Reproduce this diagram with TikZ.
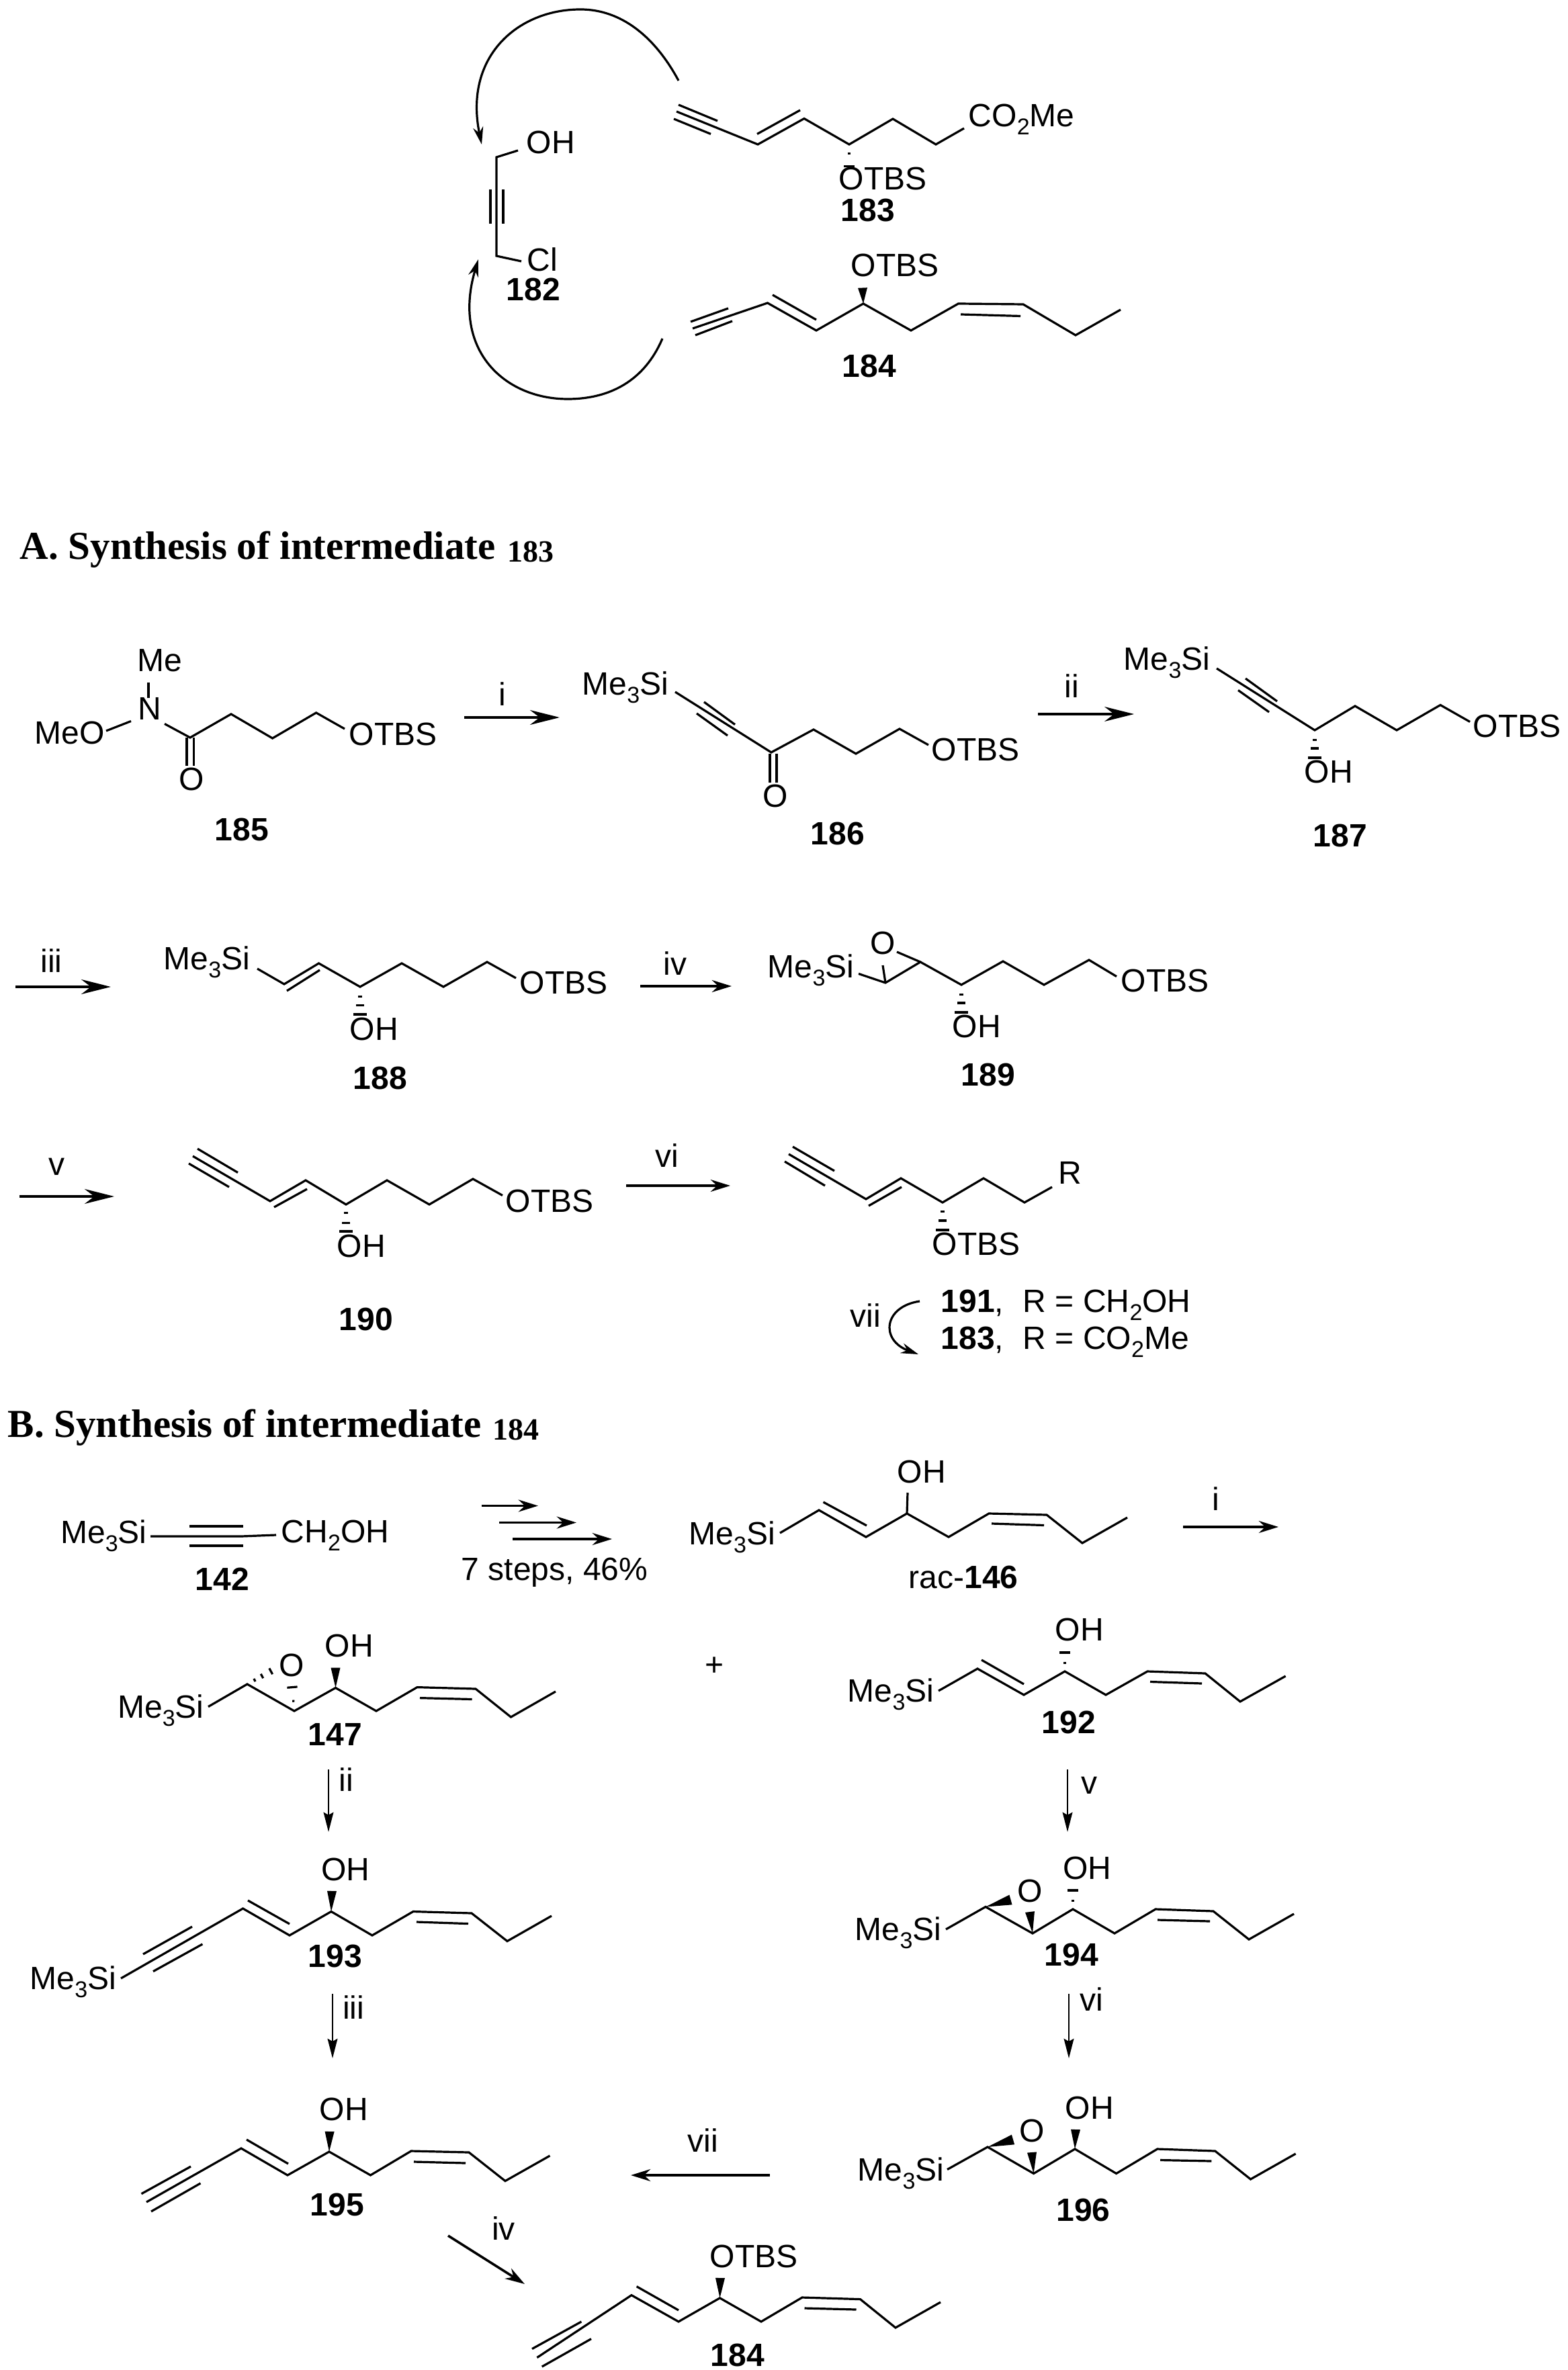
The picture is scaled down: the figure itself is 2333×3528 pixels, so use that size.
\documentclass[tikz,border=0pt]{standalone}
\usepackage{fontspec}
\setmainfont{Liberation Sans}
\newfontfamily\titlefont{Liberation Serif}
\usetikzlibrary{arrows.meta, calc}
\newcommand{\sbs}[1]{\raisebox{-3pt}{\fontsize{8.5}{9}\selectfont #1}}
% solid wedge: tip, middle of the broad end, half width
\newcommand{\wedgeb}[3]{\fill ($(#2)!#3!90:(#1)$) -- (#1) -- ($(#2)!#3!-90:(#1)$) -- cycle;}
% hashed wedge: tip, far end, list of fraction/half width
\newcommand{\hashb}[3]{\foreach \p/\w in {#3} \draw[bond] ($(#1)!\p!(#2)!\w!90:(#1)$) -- ($(#1)!\p!(#2)!\w!-90:(#1)$);}
\tikzset{
    bond/.style={line width=0.8pt},
    atom/.style={inner sep=0pt, anchor=base west},
    cmpd/.style={inner sep=0pt, anchor=base, font=\fontsize{12}{14}\selectfont\bfseries},
    rgt/.style={inner sep=0pt, anchor=base},
    head/.style={inner sep=0pt, anchor=base west, font=\titlefont\fontsize{14.75}{16}\selectfont\bfseries},
    headnum/.style={inner sep=0pt, anchor=base west, font=\titlefont\fontsize{11.5}{13}\selectfont\bfseries},
    rxnbig/.style={line width=0.9pt, -{Stealth[length=11pt, width=5.5pt]}},
    rxn/.style={line width=0.9pt, -{Stealth[length=7.3pt, width=4.5pt]}},
    rxnthin/.style={line width=0.6pt, -{Stealth[length=7.3pt, width=3.7pt, inset=1pt]}},
    curly/.style={line width=0.8pt, -{Stealth[length=6.5pt, width=3.8pt]}}
}

\begin{document}
\begin{tikzpicture}[x=0.25pt, y=-0.25pt, font=\fontsize{12}{14}\selectfont]
    \useasboundingbox (0,0) rectangle (2333,3528);

    % retrosynthesis at the top
    \node[atom] (oh182) at (783,228.5) {OH};
    \node[atom] (cl182) at (784,404) {Cl};
    \node[cmpd] (n182) at (794,448) {182};
    \draw[bond] (771,224) -- (739,234) -- (739,381) -- (776,389);
    \draw[bond] (730,282) -- (730,333);
    \draw[bond] (749,282) -- (749,333);
    \coordinate (arcAs) at (1010,120);
    \coordinate (arcAe) at (717,215);
    \coordinate (arcBs) at (986,504);
    \coordinate (arcBe) at (712,386);
    \draw[curly] (arcAs) .. controls (975,55) and (925,14) .. (864,14) .. controls (770,14) and (690,85) .. (arcAe);
    \draw[curly] (arcBs) .. controls (960,565) and (910,594) .. (845,594) .. controls (750,594) and (672,520) .. (arcBe);

    \node[atom] (otbs183) at (1248,283) {OTBS};
    \node[cmpd] (n183) at (1292,330) {183};
    \node[atom] (est183) at (1441,189) {CO\sbs{2}Me};
    \draw[bond] (1007,166) -- (1128,215) -- (1197,176.5) -- (1264,215) -- (1329,177) -- (1393,215) -- (1435,191);
    \draw[bond] (1010,156) -- (1068,180);
    \draw[bond] (1003,177) -- (1058,199.5);
    \draw[bond] (1127,199.5) -- (1191,164);
    \hashb{1264,215}{1264,250}{0.38/0.6pt, 0.92/2pt}

    \node[atom] (otbs184) at (1266,412) {OTBS};
    \node[cmpd] (n184) at (1294,562) {184};
    \draw[bond] (1031,489) -- (1142.5,451) -- (1215,492) -- (1285,452) -- (1356,492) -- (1426.5,452) -- (1523,453) -- (1601,499) -- (1668,461);
    \draw[bond] (1028,479) -- (1084,459);
    \draw[bond] (1035,499) -- (1090,478);
    \draw[bond] (1150,439) -- (1215,476);
    \draw[bond] (1430,468) -- (1519,470.5);
    \wedgeb{1285,452}{1284,428.5}{1.75pt}

    % part A
    \node[head] (titleA) at (29,833) {A. Synthesis of intermediate};
    \node[headnum] (numA) at (755,837) {183};

    \node[atom] (me185) at (203.6,999.5) {Me};
    \node[atom] (n185) at (205,1072) {N};
    \node[atom] (meo185) at (51,1107) {MeO};
    \node[atom] (otbs185) at (519,1109) {OTBS};
    \node[atom] (o185) at (266,1177) {O};
    \node[cmpd] (l185) at (360,1251) {185};
    \draw[bond] (221,1016) -- (221,1039);
    \draw[bond] (158,1088) -- (195,1073.5);
    \draw[bond] (245,1077.5) -- (283,1098) -- (344,1063) -- (405.6,1099) -- (470.6,1061) -- (513,1085);
    \draw[bond] (278,1098) -- (278,1140);
    \draw[bond] (288.5,1098) -- (288.5,1140);

    \coordinate (i1s) at (691,1068);
    \coordinate (i1e) at (833,1068);
    \draw[rxnbig] (i1s) -- (i1e);
    \node[rgt] (i1) at (748,1050.5) {i};

    \node[atom] (si186) at (866,1034) {Me\sbs{3}Si};
    \node[atom] (o186) at (1135,1201) {O};
    \node[atom] (otbs186) at (1386,1133) {OTBS};
    \node[cmpd] (l186) at (1247,1257) {186};
    \draw[bond] (1005,1030) -- (1148,1120) -- (1211,1086) -- (1274,1122) -- (1339,1085) -- (1382,1109);
    \draw[bond] (1048,1045) -- (1094,1078.6);
    \draw[bond] (1037,1062) -- (1083,1095);
    \draw[bond] (1146,1122) -- (1146,1165);
    \draw[bond] (1156,1122) -- (1156,1165);

    \coordinate (ii1s) at (1545,1063);
    \coordinate (ii1e) at (1688,1063);
    \draw[rxnbig] (ii1s) -- (ii1e);
    \node[rgt] (ii1) at (1595,1039) {ii};

    \node[atom] (si187) at (1672,998) {Me\sbs{3}Si};
    \node[atom] (otbs187) at (2192,1097) {OTBS};
    \node[atom] (oh187) at (1941,1165) {OH};
    \node[cmpd] (l187) at (1995,1260) {187};
    \draw[bond] (1811,995) -- (1957,1087) -- (2017,1051) -- (2079,1087) -- (2144,1049.5) -- (2188,1074.5);
    \draw[bond] (1854,1010) -- (1901,1044);
    \draw[bond] (1843,1027.5) -- (1889,1060);
    \hashb{1957,1087}{1957,1128}{0.35/0.8pt, 0.66/1.4pt, 1/2.4pt}

    \coordinate (iii1s) at (23,1469);
    \coordinate (iii1e) at (165,1469);
    \draw[rxnbig] (iii1s) -- (iii1e);
    \node[rgt] (iii1) at (76.5,1447) {iii};

    \node[atom] (si188) at (243,1443) {Me\sbs{3}Si};
    \node[atom] (otbs188) at (773,1479) {OTBS};
    \node[atom] (oh188) at (520,1548) {OH};
    \node[cmpd] (l188) at (566,1621) {188};
    \draw[bond] (383,1442) -- (423,1465) -- (474.5,1434) -- (536,1469) -- (598,1434) -- (660,1469) -- (725,1432) -- (768,1456);
    \draw[bond] (427,1475) -- (476,1444);
    \hashb{536,1469}{536,1510}{0.35/0.8pt, 0.68/1.4pt, 1/2.4pt}

    \coordinate (iv1s) at (953,1468);
    \coordinate (iv1e) at (1089,1468);
    \draw[rxn] (iv1s) -- (iv1e);
    \node[rgt] (iv1) at (1005,1451) {iv};

    \node[atom] (si189) at (1142,1455) {Me\sbs{3}Si};
    \node[atom] (o189) at (1295,1420) {O};
    \node[atom] (otbs189) at (1668,1476.5) {OTBS};
    \node[atom] (oh189) at (1417,1544) {OH};
    \node[cmpd] (l189) at (1471,1616) {189};
    \draw[bond] (1278,1449.5) -- (1318,1463) -- (1370,1432) -- (1431,1466) -- (1493,1431) -- (1554,1466) -- (1621,1429) -- (1662,1453.6);
    \draw[bond] (1370,1432) -- (1335,1417);
    \draw[bond] (1318,1463) -- (1314,1437);
    \hashb{1431,1466}{1431,1507}{0.35/0.8pt, 0.66/1.4pt, 1/2.4pt}

    \coordinate (v1s) at (29,1781);
    \coordinate (v1e) at (170,1781);
    \draw[rxnbig] (v1s) -- (v1e);
    \node[rgt] (v1) at (84,1749) {v};

    \node[atom] (otbs190) at (752,1804) {OTBS};
    \node[atom] (oh190) at (501,1871) {OH};
    \node[cmpd] (l190) at (545,1980) {190};
    \draw[bond] (287,1721) -- (402,1788) -- (455,1757) -- (515,1793) -- (576,1757) -- (639,1793) -- (704,1755) -- (748,1779.5);
    \draw[bond] (294,1710) -- (354,1745.5);
    \draw[bond] (281,1732) -- (341,1767);
    \draw[bond] (408,1797) -- (457,1770);
    \hashb{515,1793}{515,1833}{0.32/0.8pt, 0.68/1.4pt, 1/2.4pt}

    \coordinate (vi1s) at (932,1765);
    \coordinate (vi1e) at (1087,1765);
    \draw[rxn] (vi1s) -- (vi1e);
    \node[rgt] (vi1) at (993,1737) {vi};

    \node[atom] (r191) at (1575,1762.5) {R};
    \node[atom] (otbs191) at (1387,1868) {OTBS};
    \node[atom] (l191) at (1400,1953) {\textbf{191}, };
    \node[atom] (r1) at (1522,1953) {R = CH\sbs{2}OH};
    \node[atom] (l183) at (1400,2008.5) {\textbf{183}, };
    \node[atom] (r2) at (1522,2008.5) {R = CO\sbs{2}Me};
    \draw[bond] (1174,1718) -- (1289,1785) -- (1341,1754) -- (1403,1790) -- (1464,1754) -- (1525,1790) -- (1566,1767);
    \draw[bond] (1180,1707) -- (1242,1743);
    \draw[bond] (1168,1729) -- (1228,1765);
    \draw[bond] (1293,1795) -- (1342,1767);
    \hashb{1403,1790}{1403,1831}{0.32/0.8pt, 0.66/1.4pt, 1/2.4pt}
    \node[atom] (vii1) at (1265,1975) {vii};
    \coordinate (viiAs) at (1369,1937);
    \coordinate (viiAe) at (1367,2016);
    \draw[curly] (viiAs) .. controls (1315,1945) and (1310,1995) .. (viiAe);

    % part B
    \node[head] (titleB) at (11,2139) {B. Synthesis of intermediate};
    \node[headnum] (numB) at (733,2143) {184};

    \node[atom] (si142) at (89.5,2297) {Me\sbs{3}Si};
    \node[atom] (oh142) at (418,2296) {CH\sbs{2}OH};
    \node[cmpd] (l142) at (331,2367) {142};
    \draw[bond] (224,2287) -- (359,2287) -- (411,2285);
    \draw[bond] (282,2272) -- (361.6,2272);
    \draw[bond] (282,2301) -- (361.6,2301);

    \coordinate (s1s) at (716.5,2241.5);
    \coordinate (s1e) at (801,2241.5);
    \coordinate (s2s) at (743,2266.5);
    \coordinate (s2e) at (858,2266.5);
    \coordinate (s3s) at (763,2291);
    \coordinate (s3e) at (911,2291);
    \draw[rxn] (s1s) -- (s1e);
    \draw[rxn] (s2s) -- (s2e);
    \draw[rxn] (s3s) -- (s3e);
    \node[atom] (steps) at (686,2352) {7 steps, 46\%};

    \node[atom] (si146) at (1024.6,2299) {Me\sbs{3}Si};
    \node[atom] (oh146) at (1335,2207) {OH};
    \node[atom] (l146) at (1352,2364) {rac-\textbf{146}};
    \draw[bond] (1161,2282) -- (1219,2248) -- (1289,2288) -- (1350,2253) -- (1412,2288) -- (1472,2253) -- (1558,2255) -- (1611,2297) -- (1678,2259);
    \draw[bond] (1225.5,2236) -- (1290,2271);
    \draw[bond] (1476,2268) -- (1554,2270.5);
    \draw[bond] (1350,2253) -- (1351,2222);

    \coordinate (i2s) at (1761,2273);
    \coordinate (i2e) at (1903,2273);
    \draw[rxn] (i2s) -- (i2e);
    \node[rgt] (i2) at (1810,2248) {i};

    \node[atom] (si147) at (174.5,2557) {Me\sbs{3}Si};
    \node[atom] (o147) at (415,2495) {O};
    \node[atom] (oh147) at (483,2466) {OH};
    \node[cmpd] (l147) at (499,2598) {147};
    \draw[bond] (310,2540.6) -- (368,2507) -- (438,2547) -- (499.5,2512.5) -- (560,2547) -- (621,2511.6) -- (708,2514) -- (760.5,2556) -- (827,2518);
    \draw[bond] (625,2527.6) -- (702.6,2529.5);
    \wedgeb{499.5,2512.5}{499.5,2482.6}{1.75pt}
    \hashb{368,2507}{412,2483}{0.25/0.6pt, 0.5/0.9pt, 0.8/1.25pt}
    \hashb{438,2547}{435,2511.6}{0.42/0.4pt, 1/1.9pt}
    \node[rgt] (plus) at (1063,2494) {+};

    \node[atom] (si192) at (1261,2533) {Me\sbs{3}Si};
    \node[atom] (oh192) at (1570,2442) {OH};
    \node[cmpd] (l192) at (1591,2580) {192};
    \draw[bond] (1397,2517) -- (1455,2484) -- (1524,2523) -- (1585,2488) -- (1646,2523) -- (1708,2488) -- (1794,2491) -- (1846,2533) -- (1913.6,2495);
    \draw[bond] (1461,2471) -- (1524,2507);
    \draw[bond] (1712,2503.5) -- (1789,2506);
    \hashb{1585,2488}{1585,2460}{0.46/0.5pt, 1/1.9pt}

    \coordinate (ii2s) at (489,2634);
    \coordinate (ii2e) at (489,2727);
    \draw[rxnthin] (ii2s) -- (ii2e);
    \node[rgt] (ii2) at (515,2666.5) {ii};
    \coordinate (v2s) at (1589,2634);
    \coordinate (v2e) at (1589,2727);
    \draw[rxnthin] (v2s) -- (v2e);
    \node[rgt] (v2) at (1621.6,2670) {v};

    \node[atom] (si193) at (44,2961.6) {Me\sbs{3}Si};
    \node[atom] (oh193) at (477.5,2799.5) {OH};
    \node[cmpd] (l193) at (499,2928.6) {193};
    \draw[bond] (180,2945) -- (361.6,2841) -- (431,2881) -- (493,2845.5) -- (554,2881) -- (615,2845.5) -- (702,2848) -- (755,2889.6) -- (821,2852);
    \draw[bond] (213,2909) -- (286,2868);
    \draw[bond] (228,2934.6) -- (301.4,2894);
    \draw[bond] (369,2829) -- (431,2864);
    \draw[bond] (620,2861) -- (697,2863.6);
    \wedgeb{493,2845.5}{494,2815}{1.75pt}

    \node[atom] (si194) at (1272,2888) {Me\sbs{3}Si};
    \node[atom] (o194) at (1514,2831) {O};
    \node[atom] (oh194) at (1581.6,2797) {OH};
    \node[cmpd] (l194) at (1595,2926) {194};
    \draw[bond] (1408,2872) -- (1467,2838.5) -- (1537,2878) -- (1597,2842) -- (1659,2878) -- (1720,2842) -- (1806,2845) -- (1859,2887) -- (1926,2849);
    \draw[bond] (1723,2858) -- (1801,2860);
    \wedgeb{1467,2838.5}{1504.5,2828}{1.9pt}
    \wedgeb{1537,2878}{1533,2846}{1.75pt}
    \hashb{1597,2842}{1597,2814}{0.46/0.5pt, 1/1.9pt}

    \coordinate (iii2s) at (495,2968);
    \coordinate (iii2e) at (495,3064);
    \draw[rxnthin] (iii2s) -- (iii2e);
    \node[rgt] (iii2) at (526,3005.7) {iii};
    \coordinate (vi2s) at (1591,2968);
    \coordinate (vi2e) at (1591,3064);
    \draw[rxnthin] (vi2s) -- (vi2e);
    \node[rgt] (vi2) at (1625,2993) {vi};

    \node[atom] (oh195) at (475,3156.6) {OH};
    \node[cmpd] (l195) at (502,3298) {195};
    \draw[bond] (218,3278) -- (359,3198) -- (428,3238) -- (490,3203) -- (551.5,3238) -- (612,3202) -- (698,3204) -- (752,3246.6) -- (818.5,3209);
    \draw[bond] (210.5,3265.7) -- (284,3225);
    \draw[bond] (225,3292) -- (298.5,3250);
    \draw[bond] (367,3185) -- (429,3221);
    \draw[bond] (616,3218) -- (693,3220);
    \wedgeb{490,3203}{490.6,3173}{1.75pt}

    \node[atom] (si196) at (1276,3246) {Me\sbs{3}Si};
    \node[atom] (o196) at (1517,3188.6) {O};
    \node[atom] (oh196) at (1585,3154) {OH};
    \node[cmpd] (l196) at (1612.5,3306) {196};
    \draw[bond] (1410,3229.5) -- (1470,3196) -- (1538.6,3235.5) -- (1600,3199) -- (1661.6,3235.5) -- (1722.7,3199) -- (1808.7,3202) -- (1861.5,3244) -- (1928.6,3206);
    \draw[bond] (1727,3215.5) -- (1803.4,3217);
    \wedgeb{1470,3196}{1508,3185}{1.9pt}
    \wedgeb{1538.6,3235.5}{1536,3204}{1.75pt}
    \wedgeb{1600,3199}{1601,3170}{1.75pt}

    \coordinate (vii2s) at (1145.6,3238);
    \coordinate (vii2e) at (939,3238);
    \draw[rxn] (vii2s) -- (vii2e);
    \node[rgt] (vii2) at (1046.6,3203) {vii};

    \coordinate (iv2s) at (667,3328);
    \coordinate (iv2e) at (781,3400);
    \draw[rxn] (iv2s) -- (iv2e);
    \node[rgt] (iv2) at (749.5,3334) {iv};

    \node[atom] (otbs184b) at (1056,3375) {OTBS};
    \node[cmpd] (l184b) at (1098,3522) {184};
    \draw[bond] (799.4,3509.5) -- (940,3416.6) -- (1010,3456) -- (1071.5,3420.8) -- (1133,3456) -- (1194,3420) -- (1280.5,3422.6) -- (1333,3465) -- (1400,3427);
    \draw[bond] (792,3496.5) -- (865.4,3456);
    \draw[bond] (806.7,3523) -- (880,3481.6);
    \draw[bond] (947.6,3403.6) -- (1010,3439);
    \draw[bond] (1197.5,3436) -- (1274.5,3438);
    \wedgeb{1071.5,3420.8}{1072,3391}{1.75pt}
\end{tikzpicture}
\end{document}
